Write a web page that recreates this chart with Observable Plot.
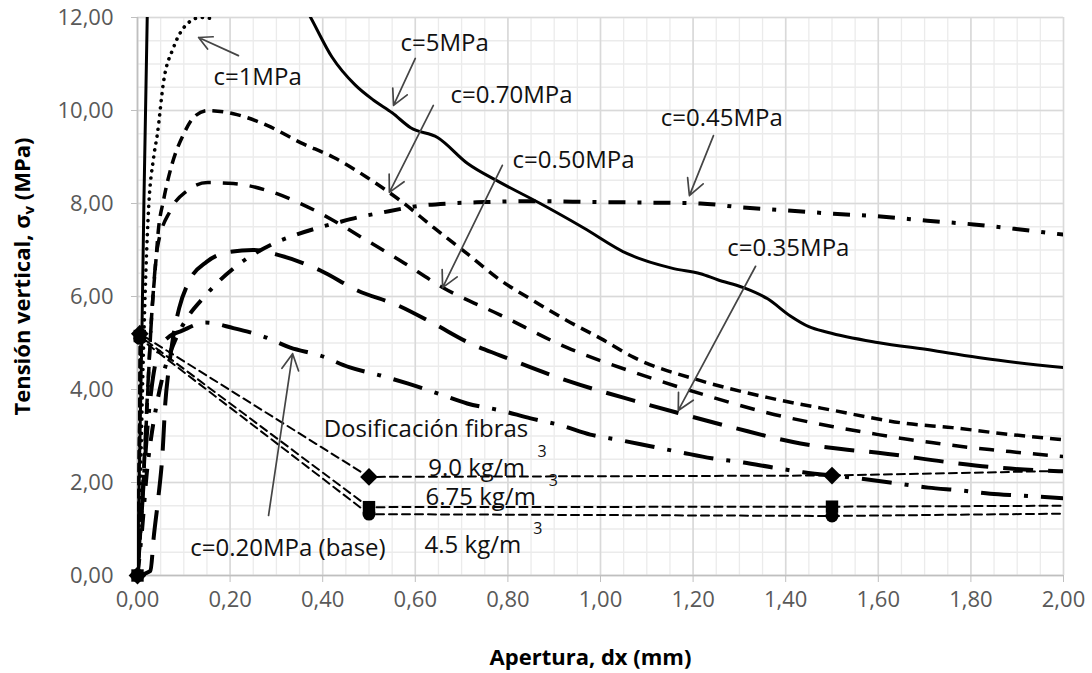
<!DOCTYPE html>
<html><head><meta charset="utf-8">
<script src="https://cdn.jsdelivr.net/npm/d3@7"></script>
<script src="https://cdn.jsdelivr.net/npm/@observablehq/plot@0.6"></script>
<style>body{margin:0;background:#fff;} #chart{width:1092px;height:673px;}</style>
</head><body><div id="chart"></div>
<script>
// ---- Axis ticks ----
const xTicks = [0, 0.2, 0.4, 0.6, 0.8, 1.0, 1.2, 1.4, 1.6, 1.8, 2.0];
const yTicks = [0, 2, 4, 6, 8, 10, 12];
const xMinor = d3.range(0, 2.0001, 0.05);
const yMinor = d3.range(0, 12.0001, 0.5);

// ---- Series: [apertura dx (mm), tensión vertical (MPa)] ----
const c5 = [[0,0],[0.01,5.5],[0.021,12],[0.04,14.5],[0.1,16.5],[0.2,15.2],[0.3,13.3],[0.374,12.0],[0.42,11.15],[0.47,10.55],[0.51,10.22],[0.55,9.95],[0.59,9.63],[0.648,9.42],[0.713,8.86],[0.784,8.45],[0.87,8.0],[0.963,7.48],[1.058,6.92],[1.158,6.6],[1.216,6.49],[1.253,6.36],[1.309,6.19],[1.361,5.95],[1.41,5.58],[1.45,5.35],[1.49,5.23],[1.598,5.01],[1.719,4.84],[1.827,4.67],[2.0,4.47]];
const c1 = [[0,0],[0.005,1.5],[0.012,4.5],[0.018,6.5],[0.024,7.9],[0.035,9.0],[0.043,9.5],[0.056,10.6],[0.078,11.36],[0.108,11.87],[0.136,12.0],[0.158,11.98]];
const c070 = [[0,0],[0.01,1.5],[0.02,3.5],[0.03,5.5],[0.04,6.8],[0.045,7.42],[0.056,8.06],[0.075,8.86],[0.1,9.5],[0.121,9.85],[0.151,10.0],[0.207,9.93],[0.28,9.68],[0.352,9.31],[0.424,8.99],[0.496,8.56],[0.568,8.06],[0.64,7.48],[0.712,6.92],[0.784,6.35],[0.855,5.91],[0.928,5.48],[1.0,5.1],[1.072,4.69],[1.216,4.19],[1.36,3.83],[1.503,3.55],[1.66,3.27],[1.76,3.18],[1.86,3.06],[2.0,2.92]];
const c050 = [[0,0],[0.012,2],[0.022,4],[0.032,5.8],[0.043,7.05],[0.071,7.85],[0.108,8.28],[0.151,8.45],[0.207,8.43],[0.28,8.28],[0.352,8.0],[0.424,7.63],[0.496,7.2],[0.568,6.77],[0.66,6.19],[0.784,5.6],[0.928,4.9],[1.072,4.37],[1.216,3.91],[1.36,3.5],[1.503,3.2],[1.6,3.03],[1.67,2.92],[1.73,2.84],[1.8,2.75],[1.86,2.69],[1.93,2.62],[2.0,2.56]];
const c035 = [[0,0],[0.028,0.1],[0.035,0.82],[0.045,1.68],[0.054,2.62],[0.06,3.7],[0.067,4.4],[0.075,5.0],[0.09,5.75],[0.11,6.3],[0.15,6.75],[0.2,6.96],[0.25,7.0],[0.309,6.88],[0.395,6.56],[0.475,6.13],[0.562,5.81],[0.639,5.42],[0.719,4.99],[0.784,4.73],[0.928,4.19],[1.072,3.76],[1.166,3.5],[1.287,3.18],[1.432,2.84],[1.52,2.72],[1.6,2.64],[1.756,2.43],[1.857,2.32],[1.95,2.26],[2.0,2.24]];
const c045 = [[0,0],[0.01,1.0],[0.02,2.2],[0.03,3.0],[0.04,3.6],[0.056,4.34],[0.078,4.98],[0.108,5.55],[0.143,5.98],[0.173,6.3],[0.212,6.64],[0.294,7.14],[0.337,7.31],[0.384,7.46],[0.432,7.59],[0.475,7.7],[0.525,7.8],[0.618,7.96],[0.67,8.0],[0.75,8.03],[0.85,8.05],[1.0,8.03],[1.1,8.02],[1.216,8.0],[1.302,7.92],[1.404,7.85],[1.503,7.78],[1.605,7.72],[1.706,7.63],[1.806,7.55],[1.907,7.44],[2.0,7.33]];
const c020 = [[0,0],[0.01,1.5],[0.02,3.0],[0.03,4.0],[0.045,4.8],[0.07,5.15],[0.093,5.25],[0.147,5.44],[0.207,5.32],[0.272,5.14],[0.33,4.9],[0.395,4.73],[0.457,4.48],[0.525,4.3],[0.583,4.13],[0.65,3.91],[0.712,3.7],[0.784,3.55],[0.849,3.38],[0.914,3.23],[0.978,3.03],[1.043,2.91],[1.108,2.78],[1.173,2.65],[1.24,2.52],[1.309,2.43],[1.374,2.32],[1.438,2.22],[1.54,2.11],[1.641,1.98],[1.708,1.89],[1.777,1.83],[1.842,1.76],[1.907,1.72],[2.0,1.66]];

// Fibre dosage series (c=0.20MPa base + fibres)
const f90 = [[0,0],[0.005,5.2],[0.5,2.12],[1.5,2.15],[2.0,2.25]];
const f675 = [[0,0],[0.005,5.15],[0.5,1.47],[1.5,1.48],[2.0,1.5]];
const f45 = [[0,0],[0.005,5.1],[0.5,1.32],[1.5,1.28],[2.0,1.33]];

// ---- Annotations ----
const labels = [
  {x:0.164, y:10.71, t:"c=1MPa"},
  {x:0.568, y:11.44, t:"c=5MPa"},
  {x:0.676, y:10.32, t:"c=0.70MPa"},
  {x:0.810, y:8.92, t:"c=0.50MPa"},
  {x:1.130, y:9.83, t:"c=0.45MPa"},
  {x:1.274, y:7.03, t:"c=0.35MPa"},
  {x:0.114, y:0.58, t:"c=0.20MPa (base)"},
  {x:0.402, y:3.14, t:"Dosificación fibras"},
  {x:0.628, y:2.30, t:"9.0 kg/m"},
  {x:0.622, y:1.68, t:"6.75 kg/m"},
  {x:0.620, y:0.645, t:"4.5 kg/m"}
];
const sups = [
  {x:0.864, y:2.65, t:"3"},
  {x:0.888, y:2.04, t:"3"},
  {x:0.855, y:1.01, t:"3"}
];
const arrows = [
  {x1:0.218, y1:11.18, x2:0.132, y2:11.57},
  {x1:0.600, y1:11.12, x2:0.553, y2:10.11},
  {x1:0.639, y1:10.11, x2:0.544, y2:8.24},
  {x1:0.788, y1:8.82, x2:0.659, y2:6.19},
  {x1:1.244, y1:9.46, x2:1.192, y2:8.17},
  {x1:1.335, y1:6.65, x2:1.168, y2:3.55},
  {x1:0.283, y1:1.29, x2:0.335, y2:4.77}
];
const xTitle = "Apertura, dx (mm)";
const yTitle = "Tensión vertical, σv (MPa)";

// ---- styles ----
const curves = [
  {pts:c5, w:3, dash:null, cap:"butt"},
  {pts:c1, w:3.6, dash:"0.1 7", cap:"round"},
  {pts:c070, w:3.5, dash:"11 7", cap:"butt"},
  {pts:c050, w:3.5, dash:"15 12", cap:"butt"},
  {pts:c035, w:4, dash:"30 15", cap:"butt"},
  {pts:c045, w:4, dash:"17 12 4 12", cap:"butt"},
  {pts:c020, w:4, dash:"30 13 4 13", cap:"butt"}
];
const fibres = [
  {pts:f90, sym:"diamond2", r:8},
  {pts:f675, sym:"square", r:7},
  {pts:f45, sym:"circle", r:6.5}
];
const fmt = v => d3.format(".2f")(v).replace(".", ",");
const X = d => d[0], Y = d => d[1];

const marks = [
  Plot.ruleX(xMinor, {stroke:"#ebebeb", strokeWidth:1.3}),
  Plot.ruleY(yMinor, {stroke:"#ebebeb", strokeWidth:1.3}),
  Plot.ruleX(xTicks, {stroke:"#d9d9d9", strokeWidth:1.6}),
  Plot.ruleY(yTicks, {stroke:"#d9d9d9", strokeWidth:1.6}),
  Plot.ruleX([0], {stroke:"#bfbfbf", strokeWidth:1.6}),
  Plot.ruleY([0], {stroke:"#bfbfbf", strokeWidth:1.6}),
  Plot.axisX({ticks:xTicks, tickFormat:fmt, tickSize:7, tickPadding:9, fontSize:22, stroke:"#bfbfbf", fill:"#595959", label:null}),
  Plot.axisY({ticks:yTicks, tickFormat:fmt, tickSize:6, tickPadding:18, fontSize:22, stroke:"#bfbfbf", fill:"#595959", label:null})
];
for (const f of fibres) {
  marks.push(Plot.line(f.pts, {x:X, y:Y, stroke:"#000", strokeWidth:2, strokeDasharray:"8 5", clip:true}));
}
for (const c of curves) {
  marks.push(Plot.line(c.pts, {x:X, y:Y, stroke:"#000", strokeWidth:c.w, strokeDasharray:c.dash, strokeLinecap:c.cap, curve:"monotone-x", clip:true}));
}
for (const f of fibres) {
  marks.push(Plot.dot(f.pts.filter(p => p[0] < 1.9), {x:X, y:Y, symbol:f.sym, r:f.r, fill:"#000", stroke:null}));
}
marks.push(
  Plot.arrow(arrows, {x1:"x1", y1:"y1", x2:"x2", y2:"y2", stroke:"#454545", strokeWidth:1.7, headLength:16, headAngle:55}),
  Plot.text(labels, {x:"x", y:"y", text:"t", textAnchor:"start", lineAnchor:"middle", fontSize:24, fill:"#111"}),
  Plot.text(sups, {x:"x", y:"y", text:"t", textAnchor:"start", lineAnchor:"middle", fontSize:16, fill:"#111"}),
  Plot.text([xTitle], {text:d=>d, frameAnchor:"bottom", dy:82, dx:-10, fontSize:22, fontWeight:"bold", fill:"#000", lineAnchor:"middle"}),
  Plot.text([yTitle], {text:d=>d, frameAnchor:"left", dx:-115, dy:-20, rotate:-90, textAnchor:"middle", fontSize:22, fontWeight:"bold", fill:"#000", lineAnchor:"middle"})
);

const plot = Plot.plot({
  width:1092, height:673,
  marginLeft:137, marginRight:29, marginTop:17, marginBottom:98,
  x:{domain:[0,2]}, y:{domain:[0,12]},
  style:{fontFamily:"'Open Sans', sans-serif", background:"#fff", overflow:"visible"},
  marks
});
// subscript v in sigma_v
d3.select(plot).selectAll("text").filter(function(){ return this.textContent === yTitle; }).each(function(){
  const t = d3.select(this); t.text(null);
  t.append("tspan").text("Tensión vertical, σ");
  t.append("tspan").attr("baseline-shift","-25%").attr("font-size","15px").text("v");
  t.append("tspan").text(" (MPa)");
});
document.getElementById("chart").appendChild(plot);
</script></body></html>
